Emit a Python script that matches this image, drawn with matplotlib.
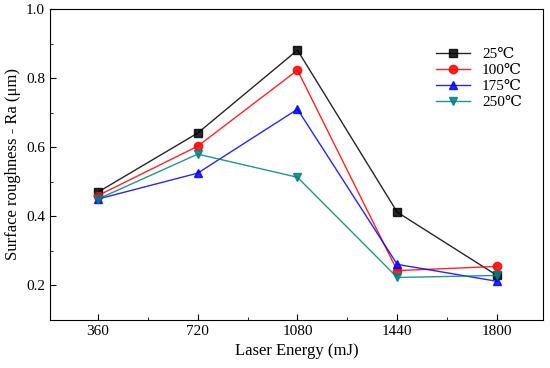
import matplotlib
matplotlib.use("Agg")
import matplotlib.pyplot as plt
from matplotlib.ticker import MultipleLocator

plt.rcParams['font.family'] = ['Liberation Serif', 'DejaVu Serif']

energy = [360, 720, 1080, 1440, 1800]
labels = ['25\u2103', '100\u2103', '175\u2103', '250\u2103']
s25 = [0.470, 0.641, 0.881, 0.412, 0.229]
s100 = [0.460, 0.603, 0.823, 0.243, 0.255]
s175 = [0.450, 0.525, 0.710, 0.261, 0.212]
s250 = [0.450, 0.580, 0.513, 0.223, 0.229]

fig = plt.figure(figsize=(5.5, 3.68), dpi=100)
ax = fig.add_axes([50/550, 1-320/368, (543-50)/550, (320-9)/368])

styles = [('black', 's'), ('red', 'o'), ('blue', '^'), ('#008080', 'v')]
for data, lab, (c, m) in zip([s25, s100, s175, s250], labels, styles):
    ax.plot(energy, data, color=c, marker=m, markersize=6, linewidth=1, label=lab, alpha=0.85, markerfacecolor=c, markeredgecolor=c)

ax.set_xlim(187, 1966)
ax.set_ylim(0.1, 1.0)
ax.set_xticks(energy)
ax.xaxis.set_minor_locator(MultipleLocator(180))
ax.yaxis.set_major_locator(MultipleLocator(0.2))
ax.yaxis.set_minor_locator(MultipleLocator(0.1))
ax.tick_params(which='both', direction='in', labelsize=11)
ax.tick_params(which='major', length=4)
ax.tick_params(which='minor', length=2)
ax.set_xlabel('Laser Energy (mJ)', fontsize=12)
ax.set_ylabel('Surface roughness - Ra (\u03bcm)', fontsize=12)
ax.legend(loc='upper right', bbox_to_anchor=(0.985, 0.92), frameon=False, fontsize=11, handlelength=2.2, labelspacing=0.15)

fig.savefig('out.png', dpi=100)
